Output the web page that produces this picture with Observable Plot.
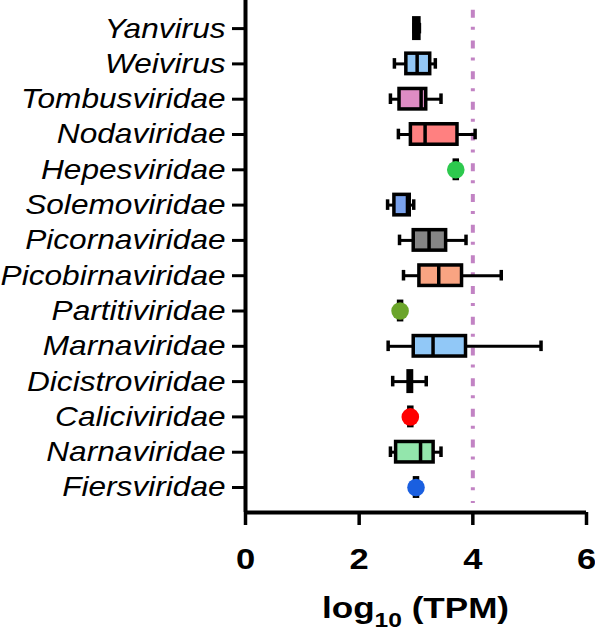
<!DOCTYPE html>
<html><head><meta charset="utf-8">
<script src="https://cdn.jsdelivr.net/npm/d3@7"></script>
<script src="https://cdn.jsdelivr.net/npm/@observablehq/plot@0.6"></script>
<style>body{margin:0;background:#fff}#chart svg{display:block}</style>
</head><body><div id="chart"></div>
<script>
// categories, bottom (index 0) to top
const families = ["Fiersviridae","Narnaviridae","Caliciviridae","Dicistroviridae","Marnaviridae","Partitiviridae","Picobirnaviridae","Picornaviridae","Solemoviridae","Hepesviridae","Nodaviridae","Tombusviridae","Weivirus","Yanvirus"];
// log10(TPM) five-number summaries
const mins    = [3.00, 2.55, 2.90, 2.59, 2.51, 2.72, 2.78, 2.71, 2.50, 3.70, 2.69, 2.55, 2.62, 2.97];
const q1s     = [3.00, 2.65, 2.90, 2.87, 2.96, 2.72, 3.06, 2.96, 2.62, 3.70, 2.91, 2.71, 2.83, 2.97];
const medians = [3.00, 3.08, 2.90, 2.90, 3.30, 2.72, 3.40, 3.23, 2.85, 3.70, 3.16, 3.09, 3.02, 3.02];
const q3s     = [3.00, 3.31, 2.90, 2.93, 3.88, 2.72, 3.81, 3.53, 2.89, 3.70, 3.73, 3.18, 3.25, 3.06];
const maxs    = [3.00, 3.44, 2.90, 3.18, 5.20, 2.72, 4.50, 3.88, 2.96, 3.70, 4.04, 3.44, 3.34, 3.06];
const colors  = ["#1a5fe0","#93e6ac","#ff0000","#000000","#91c8f7","#6ba52a","#f9a482","#858585","#7aa2ec","#2dc94e","#ff8080","#de8cc4","#93c7f5","#000000"];
const xTicks = [0, 2, 4, 6];
const threshold = [4];

const rows = families.map((name, i) => ({name, i, min: mins[i], q1: q1s[i], median: medians[i], q3: q3s[i], max: maxs[i], color: colors[i]}));
const boxes = rows.filter(d => d.max > d.min);
const points = rows.filter(d => d.max === d.min);

const FONT = "'Liberation Sans', Arial, sans-serif";
const BH = 0.29, CAP = 0.15;
const TICK = 13, PAD = 7;
const plot = Plot.plot({
  width: 595, height: 631,
  marginLeft: 245, marginRight: 9, marginTop: 0, marginBottom: 119,
  style: {fontFamily: FONT, background: "#fff", overflow: "visible"},
  x: {domain: [0, 6]},
  y: {domain: [-0.708, 13.796]},
  marks: [
    Plot.ruleX(threshold, {y1: 13.52, y2: -0.45, stroke: "#c283c4", strokeWidth: 4, strokeDasharray: "8,9,3,10.7"}),
    Plot.ruleY(boxes, {y: "i", x1: "min", x2: "q1", strokeWidth: 3}),
    Plot.ruleY(boxes, {y: "i", x1: "q3", x2: "max", strokeWidth: 3}),
    Plot.ruleX(boxes, {x: "min", y1: d => d.i - CAP, y2: d => d.i + CAP, strokeWidth: 3.5}),
    Plot.ruleX(boxes, {x: "max", y1: d => d.i - CAP, y2: d => d.i + CAP, strokeWidth: 3.5}),
    Plot.rect(boxes, {x1: "q1", x2: "q3", y1: d => d.i - BH, y2: d => d.i + BH, fill: "color", stroke: "#000", strokeWidth: 3.5}),
    Plot.ruleX(boxes, {x: "median", y1: d => d.i - BH, y2: d => d.i + BH, strokeWidth: 3.5}),
    Plot.ruleX(points, {x: "median", y1: d => d.i - 0.31, y2: d => d.i + 0.31, strokeWidth: 6.5}),
    Plot.dot(points, {x: "median", y: "i", r: 8.8, fill: "color", stroke: null}),
    Plot.ruleX([0], {strokeWidth: 4}),
    Plot.ruleY([-0.708], {strokeWidth: 4}),
    Plot.axisY({ticks: d3.range(families.length), tickFormat: i => families[i], tickSize: TICK, tickPadding: PAD, strokeWidth: 3, fontSize: 28, fontStyle: "italic", fill: "#000", label: null}),
    Plot.axisX({ticks: xTicks, tickFormat: d => d, tickSize: TICK, tickPadding: 22, strokeWidth: 3.5, fontSize: 30, fontWeight: "bold", fill: "#000", label: null})
  ]
});

const svg = d3.select(plot);
const xs = plot.scale("x");
// the reference type is set slightly wide: wrap labels in a horizontal stretch about their anchor
function wrap(node, ax, k) {
  const g = document.createElementNS("http://www.w3.org/2000/svg", "g");
  g.setAttribute("transform", `translate(${ax},0) scale(${k},1) translate(${-ax},0)`);
  node.parentNode.insertBefore(g, node);
  g.appendChild(node);
}
const yLab = svg.select('g[aria-label="y-axis tick label"]').node();
if (yLab) wrap(yLab, 245 - TICK - PAD, 1.13);
svg.selectAll('g[aria-label="x-axis tick label"] text').each(function (_, i) {
  wrap(this, xs.apply(xTicks[i]), 1.15);
});

const cx = xs.apply(3);
const t = svg.append("text")
  .attr("transform", `translate(${cx},618) scale(1.17,1)`)
  .attr("text-anchor", "middle")
  .attr("font-family", FONT)
  .attr("font-weight", "bold").attr("font-size", 30).attr("fill", "#000");
t.append("tspan").text("log");
t.append("tspan").attr("font-size", 21).attr("dy", 8.5).text("10");
t.append("tspan").attr("dy", -8.5).text(" (TPM)");

document.getElementById("chart").appendChild(plot);
</script>
</body></html>
